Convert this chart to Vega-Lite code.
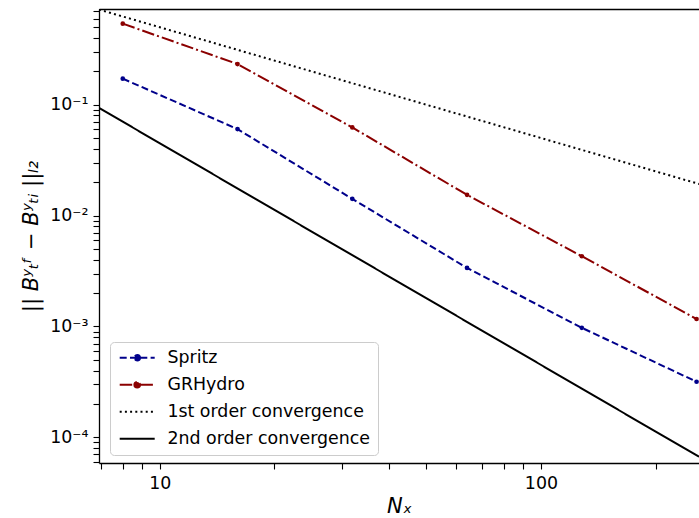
{
  "$schema": "https://vega.github.io/schema/vega-lite/v6.json",
  "width": 600,
  "height": 454,
  "autosize": {"type": "none"},
  "padding": {"left": 99, "top": 9, "right": 0, "bottom": 55},
  "background": "white",
  "config": {"view": {"stroke": null}, "font": "DejaVu Sans"},
  "data": {
    "values": [
      {"series": "Spritz", "N": 8, "err": 0.172},
      {"series": "Spritz", "N": 16, "err": 0.0603},
      {"series": "Spritz", "N": 32, "err": 0.01416},
      {"series": "Spritz", "N": 64, "err": 0.00337},
      {"series": "Spritz", "N": 128, "err": 0.000972},
      {"series": "Spritz", "N": 256, "err": 0.000317},
      {"series": "GRHydro", "N": 8, "err": 0.539},
      {"series": "GRHydro", "N": 16, "err": 0.233},
      {"series": "GRHydro", "N": 32, "err": 0.0624},
      {"series": "GRHydro", "N": 64, "err": 0.01538},
      {"series": "GRHydro", "N": 128, "err": 0.0043},
      {"series": "GRHydro", "N": 256, "err": 0.001167},
      {"series": "1st order convergence", "N": 6.93, "err": 0.722},
      {"series": "1st order convergence", "N": 259.8, "err": 0.0193},
      {"series": "2nd order convergence", "N": 6.93, "err": 0.0937},
      {"series": "2nd order convergence", "N": 259.8, "err": 0.0000667}
    ]
  },
  "layer": [
    {
      "mark": {"type": "line", "clip": true, "strokeWidth": 2},
      "encoding": {
        "x": {
          "field": "N", "type": "quantitative",
          "scale": {"type": "log", "domain": [6.93, 259.8], "nice": false},
          "axis": {
            "orient": "bottom",
            "title": "Nₓ",
            "titleFont": "DejaVu Sans", "titleFontStyle": "italic", "titleFontWeight": "normal",
            "titleFontSize": 21, "titleColor": "black", "titlePadding": 4,
            "values": [7, 8, 9, 10, 20, 30, 40, 50, 60, 70, 80, 90, 100, 200],
            "labelExpr": "datum.value == 10 ? '10' : datum.value == 100 ? '100' : ''",
            "labelFont": "DejaVu Sans", "labelFontSize": 17.4, "labelColor": "black",
            "labelPadding": 5, "labelFlush": false, "labelOverlap": false,
            "tickColor": "black", "tickWidth": 1.1, "tickSize": 6,
            "domainColor": "black", "domainWidth": 1.3, "grid": false,
            "encode": {"ticks": {"update": {"y2": {"signal": "(datum.value == 10 || datum.value == 100) ? 6 : 3.5"}}}}
          }
        },
        "y": {
          "field": "err", "type": "quantitative",
          "scale": {"type": "log", "domain": [0.0000586, 0.731], "nice": false},
          "axis": {
            "orient": "left",
            "title": "|| Bʸₜᶠ − Bʸₜᵢ ||ₗ₂",
            "titleFont": "DejaVu Sans", "titleFontStyle": "italic", "titleFontWeight": "normal",
            "titleFontSize": 21, "titleColor": "black", "titlePadding": 8,
            "values": [0.00006, 0.00007, 0.00008, 0.00009, 0.0001, 0.0002, 0.0003, 0.0004, 0.0005, 0.0006, 0.0007, 0.0008, 0.0009, 0.001, 0.002, 0.003, 0.004, 0.005, 0.006, 0.007, 0.008, 0.009, 0.01, 0.02, 0.03, 0.04, 0.05, 0.06, 0.07, 0.08, 0.09, 0.1, 0.2, 0.3, 0.4, 0.5, 0.6, 0.7],
            "labelExpr": "datum.value == 0.1 ? '10⁻¹' : datum.value == 0.01 ? '10⁻²' : datum.value == 0.001 ? '10⁻³' : datum.value == 0.0001 ? '10⁻⁴' : ''",
            "labelFont": "DejaVu Sans", "labelFontSize": 17.4, "labelColor": "black",
            "labelPadding": 5, "labelFlush": false, "labelOverlap": false,
            "tickColor": "black", "tickWidth": 1.1, "tickSize": 6,
            "domainColor": "black", "domainWidth": 1.3, "grid": false,
            "encode": {"ticks": {"update": {"x2": {"signal": "(datum.value == 0.1 || datum.value == 0.01 || datum.value == 0.001 || datum.value == 0.0001) ? -6 : -3.5"}}}}
          }
        },
        "color": {
          "field": "series", "type": "nominal",
          "scale": {
            "domain": ["Spritz", "GRHydro", "1st order convergence", "2nd order convergence"],
            "range": ["#00008b", "#8b0000", "#000000", "#000000"]
          },
          "legend": {
            "title": null,
            "orient": "none",
            "legendX": 11,
            "legendY": 333,
            "padding": 7,
            "fillColor": "rgba(255,255,255,0.8)",
            "strokeColor": "#cccccc",
            "cornerRadius": 4,
            "labelFont": "DejaVu Sans",
            "labelFontSize": 17.4,
            "labelColor": "black",
            "labelLimit": 400,
            "labelOffset": 33,
            "rowPadding": 8,
            "symbolSize": 100,
            "symbolStrokeWidth": 2,
            "encode": {
              "symbols": {
                "update": {
                  "shape": {"signal": "(datum.value == 'Spritz' || datum.value == 'GRHydro') ? 'M-1.2,0L5.8,0M2.86,0A0.56,0.56,0,1,1,1.74,0A0.56,0.56,0,1,1,2.86,0' : 'M-1.2,0L5.8,0'"},
                  "fill": {"signal": "datum.value == 'Spritz' ? '#00008b' : datum.value == 'GRHydro' ? '#8b0000' : 'transparent'"},
                  "strokeDash": {"signal": "datum.value == 'Spritz' ? [7, 3.3] : datum.value == 'GRHydro' ? [12.5, 3.1, 2, 3.1] : datum.value == '1st order convergence' ? [2, 3.2] : [1, 0]"},
                  "strokeWidth": {"value": 2},
                  "opacity": {"value": 1}
                }
              }
            }
          }
        },
        "strokeDash": {
          "field": "series", "type": "nominal",
          "scale": {
            "domain": ["Spritz", "GRHydro", "1st order convergence", "2nd order convergence"],
            "range": [[7, 3.3], [12.5, 3.1, 2, 3.1], [2, 3.2], [1, 0]]
          },
          "legend": null
        }
      }
    },
    {
      "transform": [{"filter": "datum.series == 'Spritz' || datum.series == 'GRHydro'"}],
      "mark": {"type": "point", "filled": true, "size": 22, "opacity": 1, "clip": true},
      "encoding": {
        "x": {
          "field": "N", "type": "quantitative",
          "scale": {"type": "log", "domain": [6.93, 259.8], "nice": false},
          "axis": {"orient": "top", "title": null, "labels": false, "ticks": false, "grid": false, "domainColor": "black", "domainWidth": 1.3}
        },
        "y": {"field": "err", "type": "quantitative"},
        "color": {
          "field": "series", "type": "nominal",
          "scale": {
            "domain": ["Spritz", "GRHydro", "1st order convergence", "2nd order convergence"],
            "range": ["#00008b", "#8b0000", "#000000", "#000000"]
          },
          "legend": null
        }
      }
    }
  ],
  "resolve": {"axis": {"x": "independent"}}
}
